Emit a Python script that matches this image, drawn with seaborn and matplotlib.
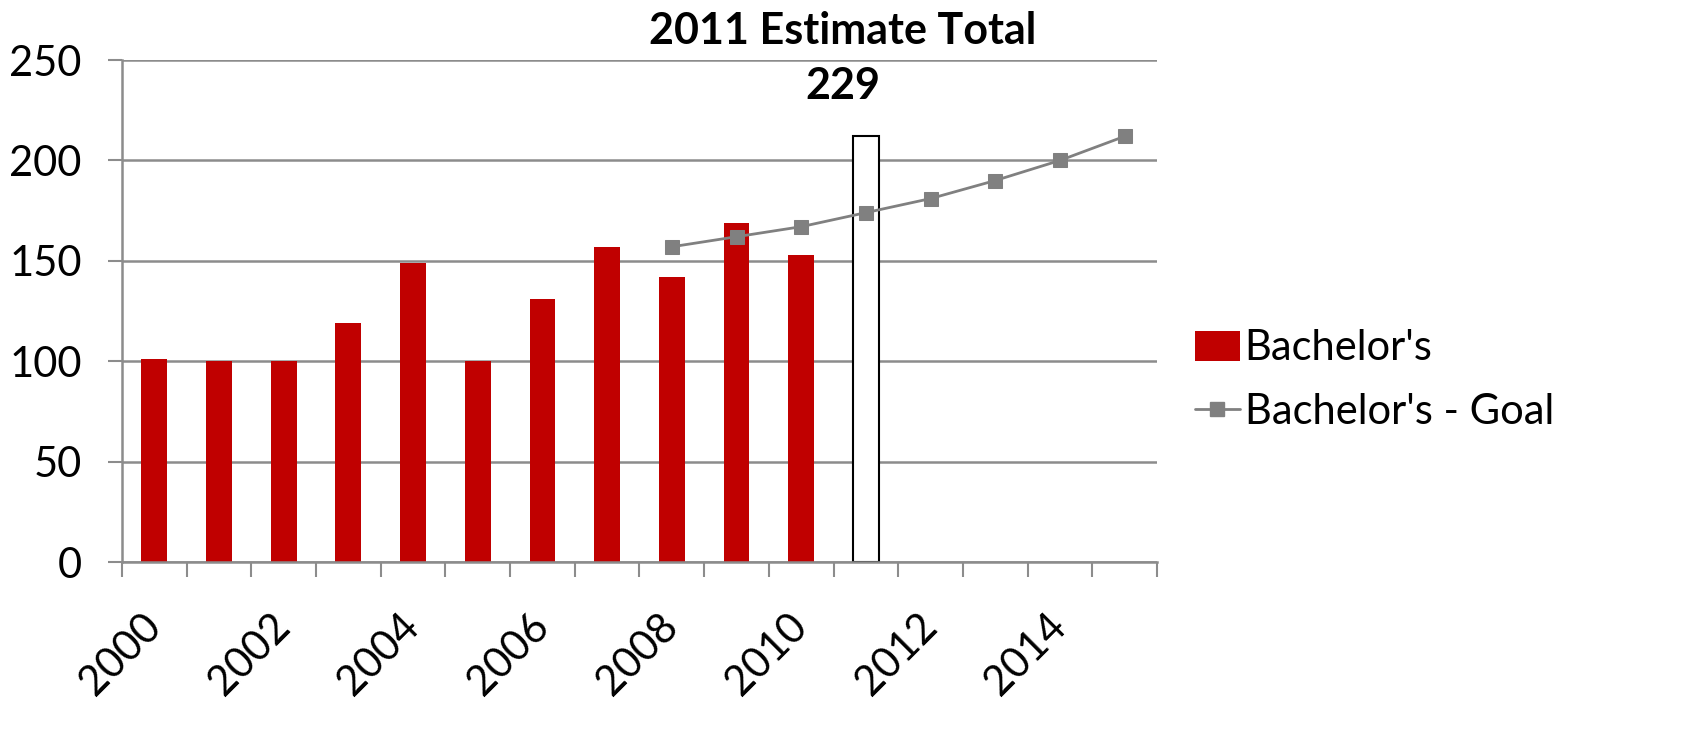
import matplotlib
matplotlib.use("Agg")
import matplotlib.pyplot as plt
import seaborn as sns
import pandas as pd
from matplotlib.patches import Patch
from matplotlib.lines import Line2D

# Data
years = [str(y) for y in range(2000, 2016)]
bar_years = ["2000", "2001", "2002", "2003", "2004", "2005",
             "2006", "2007", "2008", "2009", "2010"]
bachelors = [101, 100, 100, 119, 149, 100, 131, 157, 142, 169, 153]
estimate_year = ["2011"]
estimate_value = [212]
goal_years = ["2008", "2009", "2010", "2011", "2012", "2013", "2014", "2015"]
goal_values = [157, 162, 167, 174, 181, 190, 200, 212]
tick_years = ["2000", "2002", "2004", "2006", "2008", "2010", "2012", "2014"]

RED = "#C00000"
GREY = "#808080"
GRID = "#8C8C8C"

sns.set_style("white")
plt.rcParams["font.family"] = ["Lato", "DejaVu Sans"]
plt.rcParams["text.color"] = "black"

fig = plt.figure(figsize=(17.01, 7.55), dpi=100)
ax = fig.add_axes([0.0717, 0.2556, 0.6085, 0.6649])

bars_df = pd.DataFrame({"year": bar_years, "value": bachelors})
sns.barplot(data=bars_df, x="year", y="value", order=years, color=RED,
            width=0.4, saturation=1, edgecolor="none", ax=ax, zorder=2)

est_df = pd.DataFrame({"year": estimate_year, "value": estimate_value})
sns.barplot(data=est_df, x="year", y="value", order=years, color="white",
            width=0.4, saturation=1, edgecolor="black", linewidth=1.5,
            ax=ax, zorder=2)

goal_df = pd.DataFrame({"pos": [years.index(y) for y in goal_years],
                        "value": goal_values})
sns.lineplot(data=goal_df, x="pos", y="value", color=GREY, linewidth=2,
             marker="s", markersize=9.5, markeredgecolor=GREY, sort=False,
             ax=ax, zorder=3)

ax.set_xlim(-0.5, len(years) - 0.5)
ax.set_ylim(0, 250)
ax.set_yticks(range(0, 251, 50))
ax.yaxis.grid(True, color=GRID, linewidth=1.8)
ax.set_axisbelow(True)

ax.set_xticks([years.index(y) for y in tick_years])
ax.set_xticklabels(tick_years, rotation=45, ha="right", va="center",
                   rotation_mode="anchor")
ax.set_xticks([i - 0.5 for i in range(len(years) + 1)], minor=True)
ax.tick_params(axis="x", which="major", length=0, pad=42, labelsize=30,
               labelcolor="black")
ax.tick_params(axis="x", which="minor", length=11, width=1.5, color=GRID,
               bottom=True)
ax.tick_params(axis="y", length=10, width=1.5, color=GRID, pad=19,
               labelsize=30, left=True, labelcolor="black")
ax.set_xlabel("")
ax.set_ylabel("")

for side in ["top", "right"]:
    ax.spines[side].set_visible(False)
for side in ["left", "bottom"]:
    ax.spines[side].set_color(GRID)
    ax.spines[side].set_linewidth(1.8)

fig.text(0.4956, 1 - 11 / 755, "2011 Estimate Total\n229", ha="center",
         va="top", fontsize=31, fontweight="bold", linespacing=1.45,
         color="black")

handles = [Patch(facecolor=RED, edgecolor="none"),
           Line2D([], [], color=GREY, linewidth=2, marker="s", markersize=9.5)]
fig.legend(handles, ["Bachelor's", "Bachelor's - Goal"], loc="upper left",
           bbox_to_anchor=(1157 / 1701, 1 - 292 / 755), frameon=False,
           fontsize=30, handlelength=1.1, handletextpad=0.1,
           labelspacing=0.6, labelcolor="black")

fig.savefig("out.png", dpi=100)
